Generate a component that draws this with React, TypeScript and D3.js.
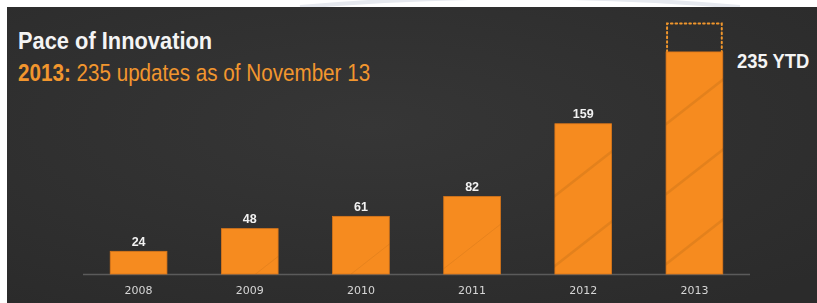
import React, { useRef, useEffect } from "react";
import * as d3 from "d3";

// data
const years = ["2008", "2009", "2010", "2011", "2012", "2013"];
const updates = [24, 48, 61, 82, 159, 235];
const projected2013 = 265; // dotted outline above the 2013 bar
const title = "Pace of Innovation";
const subtitleBold = "2013:";
const subtitleRest = " 235 updates as of November 13";
const ytdLabel = "235 YTD";

const W = 817;
const H = 303;
const ORANGE = "#f68b1f";

const App = () => {
  const svgRef = useRef<SVGSVGElement>(null);

  useEffect(() => {
    const svg = d3.select(svgRef.current);
    svg.selectAll("*").remove();

    const font = "'Liberation Sans', Arial, sans-serif";
    const baseline = 274;

    // page + chalkboard
    svg.append("rect").attr("width", W).attr("height", H).attr("fill", "#ffffff");
    svg
      .append("path")
      .attr("d", "M300,7 Q520,-12 740,7")
      .attr("fill", "none")
      .attr("stroke", "#e6e9ef")
      .attr("stroke-width", 4);

    const defs = svg.append("defs");
    const grad = defs
      .append("radialGradient")
      .attr("id", "board")
      .attr("cx", "45%")
      .attr("cy", "40%")
      .attr("r", "75%");
    grad.append("stop").attr("offset", "0%").attr("stop-color", "#363636");
    grad.append("stop").attr("offset", "100%").attr("stop-color", "#2b2b2b");

    svg
      .append("rect")
      .attr("x", 7)
      .attr("y", 7)
      .attr("width", W - 7)
      .attr("height", H - 7)
      .attr("fill", "url(#board)");

    const x = d3
      .scaleBand()
      .domain(years)
      .range([83, 750])
      .paddingInner(0.49)
      .paddingOuter(0.245);

    const y = d3
      .scaleLinear()
      .domain([0, 100])
      .range([baseline, baseline - 94.5]);

    // axis line
    svg
      .append("line")
      .attr("x1", 83)
      .attr("x2", 750)
      .attr("y1", baseline + 0.5)
      .attr("y2", baseline + 0.5)
      .attr("stroke", "#5b5b5b")
      .attr("stroke-width", 1.5);

    // projected outline for 2013
    const last = years[years.length - 1];
    svg
      .append("path")
      .attr(
        "d",
        `M${x(last)! + 1},${y(updates[updates.length - 1])} V${y(projected2013)} H${
          x(last)! + x.bandwidth() - 1
        } V${y(updates[updates.length - 1])}`
      )
      .attr("fill", "none")
      .attr("stroke", "#f0962c")
      .attr("stroke-width", 2)
      .attr("stroke-dasharray", "1.6 3")
      .attr("stroke-linecap", "round");

    // bars
    svg
      .selectAll(".bar")
      .data(updates)
      .join("rect")
      .attr("class", "bar")
      .attr("x", (d, i) => x(years[i])!)
      .attr("y", (d) => y(d))
      .attr("width", x.bandwidth())
      .attr("height", (d) => baseline - y(d))
      .attr("fill", ORANGE)
      .attr("stroke", "#d9761a")
      .attr("stroke-width", 0.8);

    // faint chalky streaks on the bars
    const streakG = svg.append("g").attr("opacity", 0.12);
    updates.forEach((d, i) => {
      const bx = x(years[i])!;
      const top = y(d);
      const clipId = `clip${i}`;
      defs
        .append("clipPath")
        .attr("id", clipId)
        .append("rect")
        .attr("x", bx)
        .attr("y", top)
        .attr("width", x.bandwidth())
        .attr("height", baseline - top);
      const g = streakG.append("g").attr("clip-path", `url(#${clipId})`);
      for (let k = 0; k < 3; k++) {
        const yy = top + 20 + k * 70;
        g.append("line")
          .attr("x1", bx - 10)
          .attr("y1", yy + 60)
          .attr("x2", bx + x.bandwidth() + 10)
          .attr("y2", yy)
          .attr("stroke", "#5a3a10")
          .attr("stroke-width", i >= 4 ? 2.5 : 0.8);
      }
    });

    // value labels
    svg
      .selectAll(".val")
      .data(updates.slice(0, -1))
      .join("text")
      .attr("class", "val")
      .attr("x", (d, i) => x(years[i])! + x.bandwidth() / 2)
      .attr("y", (d) => y(d) - 5.5)
      .attr("text-anchor", "middle")
      .attr("font-family", font)
      .attr("font-weight", "bold")
      .attr("font-size", 12.5)
      .attr("fill", "#f2f2f2")
      .text((d) => d);

    // year labels
    svg
      .selectAll(".yr")
      .data(years)
      .join("text")
      .attr("class", "yr")
      .attr("x", (d) => x(d)! + x.bandwidth() / 2)
      .attr("y", 294)
      .attr("text-anchor", "middle")
      .attr("font-family", "'DejaVu Sans', sans-serif")
      .attr("font-size", 11)
      .attr("fill", "#d6d6d6")
      .text((d) => d);

    // 235 YTD
    svg
      .append("text")
      .attr("transform", `translate(737,68) scale(0.92,1)`)
      .attr("font-family", font)
      .attr("font-weight", "bold")
      .attr("font-size", 20)
      .attr("fill", "#f4f4f4")
      .text(ytdLabel);

    // title
    svg
      .append("text")
      .attr("transform", `translate(18,49) scale(0.95,1)`)
      .attr("font-family", font)
      .attr("font-weight", "bold")
      .attr("font-size", 23)
      .attr("fill", "#f4f4f4")
      .text(title);

    const sub = svg
      .append("text")
      .attr("transform", `translate(18,81) scale(0.86,1)`)
      .attr("font-family", font)
      .attr("font-size", 24)
      .attr("fill", "#f2962e");
    sub.append("tspan").attr("font-weight", "bold").text(subtitleBold);
    sub.append("tspan").text(subtitleRest);
  }, []);

  return (
    <svg
      ref={svgRef}
      width={W}
      height={H}
      style={{ position: "absolute", left: 0, top: 0 }}
    ></svg>
  );
};

export default App;
